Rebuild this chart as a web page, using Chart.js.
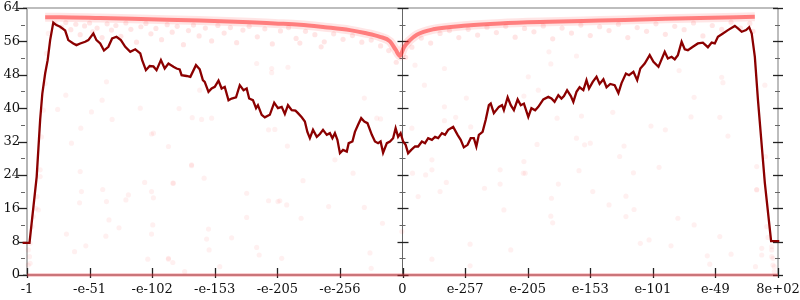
<!DOCTYPE html>
<html>
<head>
<meta charset="utf-8">
<script src="https://cdn.jsdelivr.net/npm/chart.js@4.4.0/dist/chart.umd.min.js"></script>
<style>
  body { margin: 0; background: #fff; }
  #wrap { width: 800px; height: 300px; position: relative; }
</style>
</head>
<body>
<div id="wrap"><canvas id="chart"></canvas></div>
<script>
// tick labels on the x axis (one per unit step)
const xLabels = ['-1', '-e-51', '-e-102', '-e-153', '-e-205', '-e-256', '0',
                 'e-257', 'e-205', 'e-153', 'e-101', 'e-49', '8e+02'];

// moving average line (dark red)
const lineX = [-0.07, 0.04, 0.155, 0.21, 0.245, 0.29, 0.33, 0.37, 0.42, 0.47, 0.53, 0.565, 0.61, 0.66, 0.74, 0.79, 0.85, 0.93, 0.98,
  1.06, 1.11, 1.17, 1.23, 1.30, 1.36, 1.43, 1.50, 1.57, 1.65, 1.73, 1.81, 1.84, 1.90, 1.96, 2.02, 2.07, 2.14, 2.20, 2.26, 2.34,
  2.39, 2.44, 2.47, 2.55, 2.61, 2.70, 2.76, 2.81, 2.84, 2.90, 2.95, 3.00, 3.06, 3.11, 3.16, 3.22, 3.27, 3.34, 3.40, 3.46, 3.51,
  3.55, 3.61, 3.66, 3.69, 3.75, 3.80, 3.88, 3.95, 4.01, 4.07, 4.12, 4.17, 4.23, 4.29, 4.33, 4.39, 4.44, 4.48, 4.52, 4.57, 4.63,
  4.68, 4.73, 4.79, 4.84, 4.88, 4.92, 4.96, 5.00, 5.05, 5.11, 5.14, 5.20, 5.24, 5.29, 5.34, 5.39, 5.44, 5.51, 5.56, 5.61, 5.65,
  5.69, 5.75, 5.80, 5.85, 5.89, 5.93, 5.97, 6.01, 6.05, 6.09, 6.14, 6.20, 6.25, 6.31, 6.36, 6.41, 6.47, 6.52, 6.57, 6.63, 6.68,
  6.73, 6.81, 6.88, 6.93, 6.98, 7.04, 7.09, 7.14, 7.18, 7.22, 7.28, 7.33, 7.38, 7.41, 7.46, 7.54, 7.59, 7.62, 7.68, 7.73, 7.78,
  7.84, 7.89, 7.94, 8.01, 8.06, 8.12, 8.17, 8.25, 8.33, 8.38, 8.43, 8.49, 8.54, 8.58, 8.63, 8.69, 8.73, 8.78, 8.83, 8.89, 8.94,
  8.98, 9.04, 9.10, 9.15, 9.21, 9.26, 9.32, 9.39, 9.45, 9.50, 9.57, 9.62, 9.69, 9.75, 9.80, 9.87, 9.95, 10.01, 10.09, 10.19,
  10.24, 10.30, 10.35, 10.40, 10.46, 10.51, 10.56, 10.64, 10.72, 10.80, 10.88, 10.94, 10.99, 11.04, 11.12, 11.20, 11.31, 11.36,
  11.42, 11.49, 11.54, 11.58, 11.63, 11.68, 11.79, 11.89, 12.02];
const lineY = [7.7, 7.7, 23.6, 37.2, 43.5, 48.3, 51.5, 56.3, 60.5, 59.9, 59.5, 59.1, 58.6, 56.3, 55.5, 55.1, 55.5, 55.9, 56.3,
  57.9, 56.3, 55.5, 53.8, 54.7, 56.7, 57.1, 56.3, 54.7, 53.5, 54.1, 53.1, 51.5, 49.1, 50.1, 50.0, 49.1, 51.5, 49.5, 50.7, 49.9,
  49.5, 49.3, 47.9, 47.7, 47.5, 50.3, 49.3, 46.7, 46.3, 43.9, 44.7, 45.1, 46.6, 44.7, 45.1, 41.9, 42.3, 42.6, 45.5, 44.3, 44.7,
  42.3, 41.9, 40.0, 40.7, 38.4, 37.8, 38.4, 41.3, 40.0, 40.3, 38.6, 40.7, 39.5, 39.4, 38.8, 37.8, 36.8, 34.3, 32.8, 34.8, 33.1,
  33.8, 34.8, 33.6, 34.0, 32.8, 34.0, 32.4, 29.2, 30.0, 29.6, 31.6, 32.0, 34.3, 36.0, 37.6, 36.8, 36.4, 33.6, 32.0, 31.6, 32.0,
  29.3, 31.6, 32.0, 32.8, 35.2, 33.1, 34.0, 32.0, 31.2, 29.2, 30.0, 30.8, 30.8, 32.0, 31.6, 32.8, 32.4, 33.1, 32.8, 34.0, 33.6,
  34.8, 35.5, 33.6, 32.4, 30.6, 31.2, 32.8, 32.8, 30.8, 33.6, 34.3, 37.2, 40.7, 41.1, 38.8, 40.3, 40.7, 39.5, 42.6, 40.7, 39.5,
  42.1, 40.7, 41.1, 37.9, 40.0, 39.5, 40.3, 42.1, 42.7, 42.3, 41.5, 43.1, 42.3, 42.9, 44.3, 42.9, 41.5, 43.9, 45.0, 44.3, 46.7,
  44.7, 46.3, 47.5, 45.8, 46.9, 45.0, 45.8, 45.5, 43.6, 46.0, 48.3, 47.9, 48.7, 46.7, 49.5, 50.7, 52.7, 51.1, 49.9, 53.5,
  51.9, 52.3, 51.7, 52.7, 55.9, 54.1, 53.9, 54.7, 55.5, 55.7, 54.6, 55.7, 55.5, 57.1, 57.9, 58.7, 59.7, 59.1,
  58.3, 58.7, 59.4, 57.9, 52.3, 41.9, 22.0, 8.1, 8.1];

// dense band of samples near the top
const bandX = [0.29, 0.53, 1.17, 1.96, 2.76, 3.56, 3.96, 4.36, 4.76, 5.16, 5.40, 5.64, 5.80, 5.89, 5.96,
  6.02, 6.12, 6.23, 6.49, 7.03, 7.56, 8.35, 9.15, 9.95, 10.75, 11.63];
const bandY = [61.8, 61.8, 61.6, 61.3, 61.0, 60.6, 60.3, 60.0, 59.4, 58.7, 58.0, 57.1, 56.0, 54.0, 52.5,
  54.5, 56.3, 57.6, 58.9, 59.8, 60.3, 60.7, 61.0, 61.3, 61.6, 61.9];

// dense row of samples at zero
const floorX = [0, 12];
const floorY = [0, 0];

// samples just under the band
const haloPoints = [[0.45, 60.2], [0.55, 59.4], [0.62, 60.5], [0.7, 58.8], [0.78, 60.1], [0.85, 57.6], [0.92, 59.7], [1.0, 60.4],
  [1.05, 58.3], [1.12, 59.2], [1.2, 56.9], [1.28, 60.2], [1.35, 58.7], [1.42, 59.8], [1.5, 57.2], [1.58, 60.4], [1.66, 58.9],
  [1.75, 55.8], [1.82, 59.5], [1.9, 60.3], [1.98, 57.8], [2.06, 59.1], [2.15, 56.4], [2.24, 60.0], [2.32, 58.2], [2.4, 59.6],
  [2.5, 55.2], [2.58, 58.6], [2.66, 59.9], [2.75, 57.3], [2.85, 59.2], [2.95, 56.1], [3.05, 59.8], [3.15, 58.0], [3.25, 59.3],
  [3.35, 55.7], [3.45, 58.7], [3.55, 59.6], [3.68, 57.1], [3.8, 59.0], [3.92, 55.4], [4.05, 58.5], [4.18, 59.3], [4.3, 56.7],
  [4.45, 58.4], [4.6, 57.6], [4.75, 55.9], [4.9, 57.8], [5.05, 56.5], [5.2, 57.4], [5.35, 55.8], [5.5, 56.3], [5.65, 54.9],
  [5.78, 53.8], [5.9, 51.0], [6.05, 52.2], [6.15, 54.6], [6.3, 56.8], [6.45, 55.6], [6.6, 57.9], [6.75, 58.6], [6.9, 56.9],
  [7.05, 58.9], [7.2, 57.5], [7.35, 59.4], [7.5, 58.1], [7.65, 59.6], [7.8, 57.0], [7.95, 59.1], [8.1, 58.3], [8.25, 59.7],
  [8.4, 56.6], [8.55, 59.2], [8.7, 58.0], [8.85, 59.9], [9.0, 57.4], [9.15, 59.5], [9.3, 58.6], [9.45, 60.1], [9.6, 56.9],
  [9.75, 59.3], [9.9, 58.4], [10.05, 60.2], [10.2, 57.7], [10.35, 59.6], [10.5, 58.8], [10.65, 60.4], [10.8, 57.3],
  [10.95, 59.8], [11.1, 58.9], [11.25, 60.6], [11.4, 59.2], [11.55, 60.3], [11.6, 58.4], [4.36, 55.6], [4.7, 54.7]];

// scattered samples everywhere else
const sparsePoints = [[0.85, 24.8], [0.87, 20.0], [0.84, 17.3], [1.21, 20.5], [1.27, 17.6], [1.31, 13.2], [1.47, 11.3],
  [1.58, 18.0], [1.62, 19.2], [1.88, 22.2], [1.99, 20.0], [2.02, 18.5], [2.01, 12.0], [1.99, 9.8], [2.34, 22.0], [2.63, 26.4],
  [0.63, 9.8], [0.76, 5.6], [0.94, 7.0], [1.26, 9.3], [1.93, 3.8], [2.26, 3.8], [2.33, 3.0], [2.52, 0.8],
  [0.62, 43.1], [0.49, 39.7], [1.20, 41.9], [1.03, 39.1], [1.36, 37.3], [0.86, 35.2], [0.71, 31.6], [1.27, 46.3], [1.81, 40.0],
  [2.02, 34.0], [3.67, 50.7], [3.91, 49.5], [3.91, 48.5], [2.76, 44.3], [2.43, 39.9], [2.64, 37.7], [2.95, 37.6], [2.79, 37.3],
  [3.86, 34.8], [1.99, 33.8], [2.26, 30.8], [2.63, 26.2], [2.83, 23.2], [2.33, 22.0], [3.51, 19.6], [3.86, 17.8], [3.51, 13.8],
  [4.01, 17.6], [2.90, 11.0], [2.87, 8.6], [3.27, 8.9], [2.91, 6.0], [3.67, 6.6], [3.71, 4.8], [3.08, 2.0], [2.26, 4.0],
  [4.17, 49.8], [5.39, 42.4], [5.59, 37.6], [5.65, 37.4], [3.96, 34.9], [4.16, 30.9], [4.92, 27.6], [5.21, 24.4], [4.41, 22.6],
  [4.04, 17.8], [4.15, 16.8], [4.82, 16.4], [5.39, 16.2], [4.38, 13.6], [5.68, 12.4], [5.48, 5.3], [4.07, 4.0], [5.50, 1.6],
  [6.20, 50.3], [6.67, 49.5], [6.35, 45.5], [7.02, 42.4], [6.67, 40.3], [6.85, 37.8], [6.67, 37.0], [7.09, 35.5], [6.15, 35.2],
  [6.47, 27.6], [6.16, 24.4], [6.37, 24.0], [6.47, 25.2], [6.70, 22.2], [6.60, 20.0], [6.25, 18.8], [7.31, 20.8], [7.56, 21.8],
  [5.99, 10.4], [7.08, 7.4], [7.73, 6.0], [6.47, 3.8], [7.08, 2.2], [7.56, 25.2], [7.62, 15.6], [7.93, 24.4],
  [8.34, 53.5], [8.37, 50.6], [8.01, 47.5], [8.17, 44.3], [7.94, 42.9], [8.78, 52.5], [9.36, 39.0], [8.86, 38.1], [8.47, 37.6],
  [8.15, 31.3], [8.78, 32.8], [8.91, 31.2], [9.00, 31.6], [9.54, 30.9], [9.47, 28.4], [7.94, 27.2], [7.96, 24.4], [8.82, 25.0],
  [9.69, 24.5], [8.49, 21.8], [9.04, 20.0], [8.38, 18.4], [9.57, 18.9], [9.30, 16.8], [9.70, 15.7], [8.37, 14.1], [8.40, 12.5],
  [9.57, 14.0], [9.80, 7.6], [9.94, 8.4], [10.42, 49.0], [10.66, 42.6], [11.10, 47.4], [11.12, 46.1], [11.79, 45.5],
  [10.61, 37.9], [11.07, 37.8], [11.20, 33.3], [10.20, 34.8], [9.97, 35.7], [10.10, 25.8], [11.80, 28.4], [11.66, 20.4],
  [10.40, 13.6], [10.66, 12.0], [10.29, 7.0], [11.07, 9.2], [10.91, 2.6], [11.25, 5.0], [11.74, 6.4], [10.87, 4.6],
  [11.90, 6.0], [11.92, 4.0], [11.94, 2.0], [11.66, 26.0], [11.66, 20.5], [11.82, 11.6], [11.84, 9.0], [11.90, 6.8],
  [11.90, 4.4], [11.92, 2.4], [11.94, 0.8], [11.74, 4.8], [11.64, 2.0],
  [0.02, 6.0], [0.05, 7.6], [0.04, 4.4], [0.02, 2.4], [0.08, 11.6], [0.10, 14.0], [0.14, 16.0], [0.16, 18.8], [0.21, 25.2],
  [0.18, 15.6], [0.21, 23.6], [0.23, 33.1], [0.26, 39.5], [0.29, 45.9], [0.31, 53.1], [0.34, 57.9], [0.05, 2.8]];

const toXY = (xs, ys) => xs.map((x, i) => ({ x: x, y: ys[i] }));
const pairs = pts => pts.map(p => ({ x: p[0], y: p[1] }));

const serif = { family: '"DejaVu Serif", serif', size: 13 };

// Desenha eixos, eixo central e marcas de escala
const axisDeco = {
  id: 'axisDeco',
  beforeDatasetsDraw(chart) {
    const { ctx, chartArea: a, scales: { x, y } } = chart;
    const seg = (x1, y1, x2, y2, color, w) => {
      ctx.beginPath();
      ctx.strokeStyle = color;
      ctx.lineWidth = w;
      ctx.moveTo(x1, y1);
      ctx.lineTo(x2, y2);
      ctx.stroke();
    };
    ctx.save();
    const mx = x.getPixelForValue(6);
    seg(a.left - 4, a.top, a.right, a.top, '#bdbdbd', 2);
    seg(a.left, a.top, a.left, a.bottom, '#b5b5b5', 2);
    seg(a.right, a.top, a.right, a.bottom, '#bdbdbd', 2);
    seg(a.left - 4, a.bottom, a.right, a.bottom, '#b5b5b5', 2);
    seg(mx, a.top, mx, a.bottom, '#666', 1);
    for (let v = 0; v <= 64; v += 4) {
      const py = Math.round(y.getPixelForValue(v)) + 0.5;
      if (v % 8 === 0) {
        seg(a.left - 9, py, a.left, py, '#222', 1.3);
        seg(mx - 5, py, mx + 6, py, '#222', 1.3);
        seg(a.right - 5, py, a.right + 5, py, '#222', 1.3);
      } else {
        seg(a.left - 6, py, a.left - 2, py, '#666', 1);
        seg(mx - 3, py, mx + 3, py, '#666', 1);
        seg(a.right - 3, py, a.right + 2, py, '#666', 1);
      }
    }
    for (let i = 0; i < xLabels.length; i++) {
      const px = Math.round(x.getPixelForValue(i)) + 0.5;
      seg(px, a.bottom - 7, px, a.bottom + 3, '#222', 1.3);
    }
    ctx.restore();
  }
};

new Chart(document.getElementById('chart'), {
  type: 'scatter',
  data: {
    datasets: [
      {
        label: 'média',
        data: toXY(lineX, lineY),
        showLine: true,
        borderColor: '#8b0000',
        borderWidth: 2.3,
        pointRadius: 0,
        clip: false,
        order: 0
      },
      {
        label: 'faixa',
        data: toXY(bandX, bandY),
        showLine: true,
        borderColor: 'rgba(255, 30, 30, 0.52)',
        borderWidth: 4,
        cubicInterpolationMode: 'monotone',
        pointRadius: 0,
        clip: false,
        order: 2
      },
      {
        label: 'faixa-borda',
        data: toXY(bandX, bandY),
        showLine: true,
        borderColor: 'rgba(255, 0, 0, 0.10)',
        borderWidth: 9,
        cubicInterpolationMode: 'monotone',
        pointRadius: 0,
        clip: false,
        order: 3
      },
      {
        label: 'zero',
        data: toXY(floorX, floorY),
        showLine: true,
        borderColor: 'rgba(230, 40, 50, 0.45)',
        borderWidth: 3,
        pointRadius: 0,
        clip: false,
        order: 1
      },
      {
        label: 'halo',
        data: pairs(haloPoints),
        pointRadius: 2.6,
        pointBorderWidth: 0,
        backgroundColor: 'rgba(255, 0, 0, 0.10)',
        clip: false,
        order: 4
      },
      {
        label: 'amostras',
        data: pairs(sparsePoints),
        pointRadius: 2.6,
        pointBorderWidth: 0,
        backgroundColor: 'rgba(255, 0, 0, 0.06)',
        clip: false,
        order: 5
      }
    ]
  },
  options: {
    responsive: true,
    maintainAspectRatio: false,
    animation: false,
    layout: { padding: { top: 8, right: 22, left: 0, bottom: 0 } },
    plugins: {
      legend: { display: false },
      tooltip: { enabled: false }
    },
    scales: {
      x: {
        type: 'linear',
        min: 0,
        max: 12,
        afterFit: s => {
          s.height = 25;
          s.paddingLeft = 0;
          s.paddingRight = 0;
        },
        grid: { display: false, drawTicks: false },
        border: { display: false },
        ticks: {
          stepSize: 1,
          autoSkip: false,
          maxRotation: 0,
          padding: 7,
          color: '#111',
          font: serif,
          callback: v => xLabels[v]
        }
      },
      y: {
        type: 'linear',
        min: 0,
        max: 64,
        afterFit: s => {
          s.width = 27;
          s.paddingTop = 0;
          s.paddingBottom = 0;
        },
        grid: { display: false, drawTicks: false },
        border: { display: false },
        ticks: {
          stepSize: 8,
          padding: 7,
          color: '#111',
          font: serif
        }
      }
    }
  },
  plugins: [axisDeco]
});
</script>
</body>
</html>
